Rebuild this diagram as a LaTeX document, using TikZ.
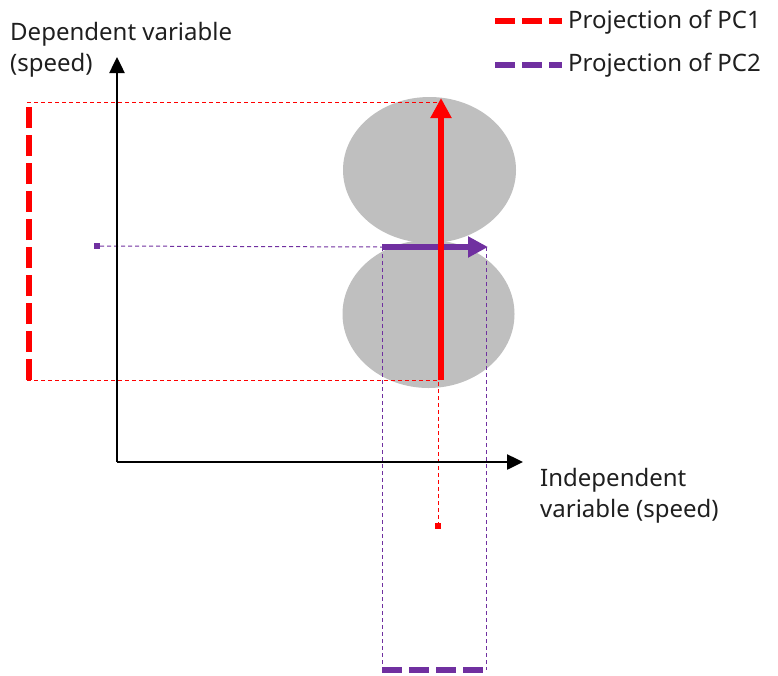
\documentclass[tikz,border=0pt]{standalone}
\usepackage{fontspec}
\setmainfont{Noto Sans}
\usetikzlibrary{arrows.meta}
\definecolor{pcred}{RGB}{255,0,0}
\definecolor{pcpurple}{RGB}{112,48,160}
\definecolor{blobgray}{RGB}{191,191,191}
\begin{document}
\begin{tikzpicture}[x=1pt,y=-1pt,
  blob/.style={fill=blobgray,draw=none},
  axis/.style={line width=2.5pt,-{Triangle[length=16pt,width=15pt]}},
  pcarrow/.style={line width=6.5pt,-{Triangle[length=20pt,width=20pt]}},
  thinred/.style={draw=pcred,line width=1pt,dash pattern=on 4pt off 3pt},
  thinpurple/.style={draw=pcpurple,line width=1pt,dash pattern=on 4pt off 3pt},
  thickred/.style={draw=pcred,line width=6pt,dash pattern=on 21pt off 7pt},
  thickpurple/.style={draw=pcpurple,line width=6pt,dash pattern=on 20pt off 7pt},
  dotmark/.style={inner sep=0pt,minimum size=6pt},
  lbl/.style={inner sep=0pt,font=\fontsize{24pt}{31pt}\selectfont,align=left,text=black!88}
]
\useasboundingbox (0,0) rectangle (778,675);
% blobs
\fill[blob] (429.5,170) ellipse [x radius=86.5, y radius=73];
\fill[blob] (428.5,314) ellipse [x radius=86, y radius=74];
% coordinates
\coordinate (O) at (117,462);
\coordinate (ytip) at (117,57);
\coordinate (xtip) at (523,462);
\coordinate (rtop) at (441,98);
\coordinate (rbot) at (441,380);
\coordinate (pl) at (382,247);
\coordinate (ptip) at (488,247);
\coordinate (rtl) at (27,102);
\coordinate (rtr) at (441,102);
\coordinate (rbl) at (27,380);
\coordinate (rbr) at (438,380);
\coordinate (plb) at (382,670);
\coordinate (prb) at (486,670);
\coordinate (prt) at (486,247);
\node[dotmark,fill=pcred] (rdot) at (438,526) {};
\node[dotmark,fill=pcpurple] (pdot) at (97,246) {};
% thin projection lines
\draw[thinred] (rtl) -- (rtr);
\draw[thinred] (rbl) -- (rbr) -- (rdot.north);
\draw[thinpurple] (pdot.east) -- (pl);
\draw[thinpurple] (pl) -- (plb);
\draw[thinpurple] (prt) -- (prb);
% thick projections
\draw[thickred] (29,380) -- (29,102);
\draw[thickpurple] (plb) -- (prb);
% axes
\draw[axis] (O) -- (ytip);
\draw[axis] (O) -- (xtip);
% PC arrows
\draw[pcarrow,draw=pcpurple,fill=pcpurple] (pl) -- (ptip);
\draw[pcarrow,draw=pcred,fill=pcred] (rbot) -- (rtop);
% labels
\node[lbl,anchor=north west] (ylab) at (10,22) {Dependent variable\\(speed)};
\node[lbl,anchor=north west] (xlab) at (540,468) {Independent\\variable (speed)};
% legend
\coordinate (l1a) at (495,21);
\coordinate (l1b) at (562,21);
\coordinate (l2a) at (495,65);
\coordinate (l2b) at (562,65);
\draw[draw=pcred,line width=5.5pt,dash pattern=on 20pt off 7pt] (l1a) -- (l1b);
\draw[draw=pcpurple,line width=5.5pt,dash pattern=on 20pt off 7pt] (l2a) -- (l2b);
\node[lbl,anchor=base west] (leg1) at (568,28) {Projection of PC1};
\node[lbl,anchor=base west] (leg2) at (568,71) {Projection of PC2};
\end{tikzpicture}
\end{document}
